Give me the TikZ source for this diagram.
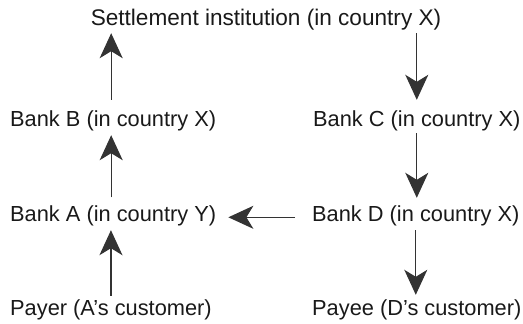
\documentclass[tikz,border=0pt]{standalone}
\usepackage{fontspec}
\setmainfont{Liberation Sans}
\usetikzlibrary{arrows.meta}
\begin{document}
\begin{tikzpicture}[x=1pt,y=-1pt,
  lbl/.style={inner sep=0pt, text height=16pt, text depth=4.6pt, font=\fontsize{21.8}{24}\selectfont, text=black!90},
  flow/.style={line width=1.2pt, draw=black!80, -{Stealth[length=25pt,width=23pt,inset=7pt]}}]
\useasboundingbox (0,0) rectangle (523,324);
\node[lbl, anchor=base, font=\fontsize{22.6}{24}\selectfont] (S) at (266,25) {Settlement institution (in country X)};
\node[lbl, anchor=base west] (B) at (10,126) {Bank B (in country X)};
\node[lbl, anchor=base west] (C) at (313,126) {Bank C (in country X)};
\node[lbl, anchor=base west] (A) at (10,221) {Bank A (in country Y)};
\node[lbl, anchor=base west] (D) at (312,221) {Bank D (in country X)};
\node[lbl, anchor=base west] (P) at (10,315) {Payer (A’s customer)};
\node[lbl, anchor=base west] (Q) at (312,315) {Payee (D’s customer)};
\draw[flow, shorten <=10pt, shorten >=3.4pt] ([xshift=-2pt]B.north) -- ([xshift=-2pt]B.north |- S.south);
\draw[flow, shorten <=7.5pt, shorten >=4.4pt] ([xshift=-2pt]A.north) -- ([xshift=-2pt]A.north |- B.south);
\draw[flow, shorten <=3pt, shorten >=4.4pt] (P.north) -- (P.north |- A.south);
\draw[flow, shorten <=3.4pt, shorten >=10pt] (C.north |- S.south) -- (C.north);
\draw[flow, shorten <=2.4pt, shorten >=7pt] (C.south) -- (C.south |- D.north);
\draw[flow, shorten <=4.4pt, shorten >=4pt] (D.south) -- (D.south |- Q.north);
\draw[flow, shorten <=17pt, shorten >=12pt] ([yshift=-2pt]D.west) -- ([yshift=-2pt]A.east);
\end{tikzpicture}
\end{document}
